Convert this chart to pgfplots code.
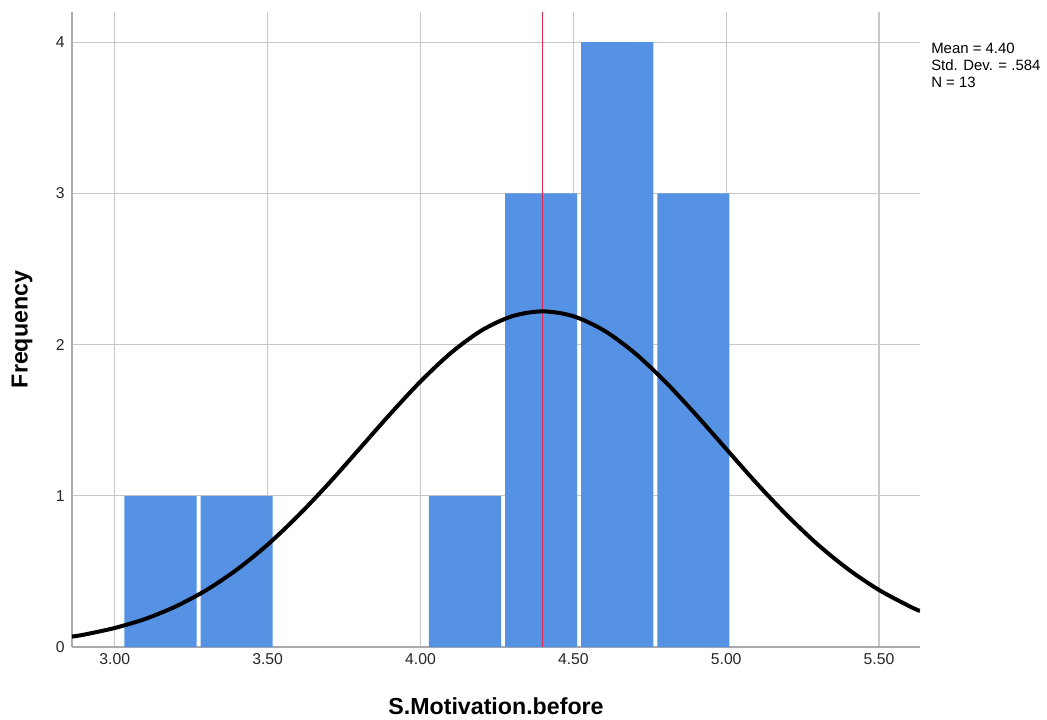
\documentclass[border=0pt]{standalone}
\usepackage{pgfplots}
\pgfplotsset{compat=1.18}
\usepackage{fontspec}
\setmainfont{Liberation Sans}
\definecolor{barblue}{RGB}{85,146,227}
\definecolor{gridgrey}{RGB}{200,200,200}
\definecolor{axgrey}{RGB}{170,170,170}
\definecolor{meanred}{RGB}{225,40,80}

\begin{document}
\begin{tikzpicture}[x=0.75pt,y=0.75pt]
\useasboundingbox (-72,-72) rectangle (975,647);
\begin{axis}[
    at={(0,0)}, anchor=south west,
    scale only axis, width=636pt, height=476.25pt,
    xmin=2.86, xmax=5.634, ymin=0, ymax=4.2,
    axis x line*=bottom, axis y line*=left,
    axis line style={axgrey, line width=0.9pt},
    xtick={3,3.5,4,4.5,5,5.5}, ytick={0,1,2,3,4},
    xticklabels={3.00,3.50,4.00,4.50,5.00,5.50},
    major tick length=0pt,
    grid=major, major grid style={gridgrey, line width=0.9pt},
    tick label style={font=\fontsize{11.8}{13}\selectfont, text=black!85},
    /pgf/number format/assume math mode=true,
    xticklabel style={yshift=-1.5pt},
    yticklabel style={xshift=-2pt},
    xlabel={S.Motivation.before}, ylabel={Frequency},
    label style={font=\fontsize{17.4}{20}\selectfont\bfseries},
    xlabel style={at={(axis description cs:0.5,-0.093)}, anchor=center},
    ylabel style={at={(axis description cs:-0.059,0.5)}, anchor=center},
    clip=true,
]
% histogram bars (bin width 0.249)
\addplot[ybar, bar width=0.236, bar shift=0pt, fill=barblue, draw=none]
    coordinates {(3.1495,1) (3.3985,1) (4.1455,1) (4.3945,3) (4.6435,4) (4.8925,3)};
% mean line
\addplot[meanred, line width=0.8pt] coordinates {(4.40,0) (4.40,4.2)};
% normal curve
\addplot[black, line width=3pt, smooth] coordinates {
    (2.86,0.069) (2.9,0.082) (3.0,0.126) (3.1,0.186) (3.2,0.269) (3.3,0.377)
    (3.4,0.513) (3.5,0.677) (3.6,0.869) (3.7,1.082) (3.8,1.310) (3.9,1.539)
    (4.0,1.756) (4.1,1.946) (4.2,2.094) (4.3,2.188) (4.4,2.220) (4.5,2.188)
    (4.6,2.094) (4.7,1.946) (4.8,1.756) (4.9,1.539) (5.0,1.310) (5.1,1.082)
    (5.2,0.869) (5.3,0.677) (5.4,0.513) (5.5,0.377) (5.6,0.269) (5.634,0.238)};
\end{axis}
\node[anchor=north west, align=left, inner sep=0pt,
      font=\fontsize{11.2}{12.75}\selectfont] at (859,604)
    {Mean = 4.40\\Std. Dev. = .584\\N = 13};
\end{tikzpicture}
\end{document}
